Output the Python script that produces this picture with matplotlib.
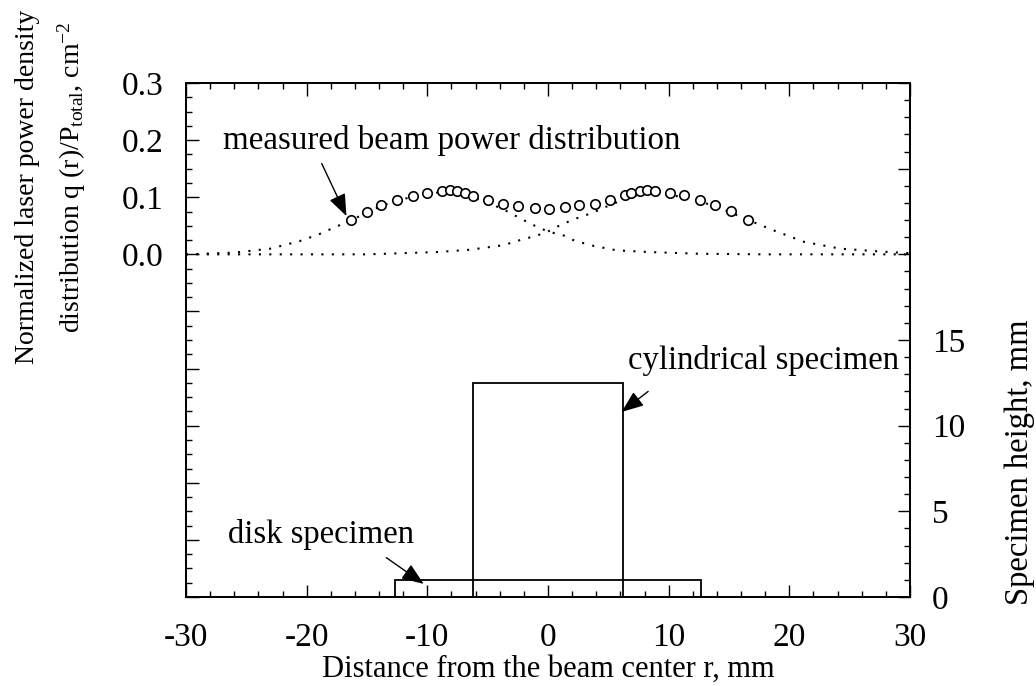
import matplotlib
matplotlib.use("Agg")
import matplotlib.pyplot as plt
from matplotlib.patches import Rectangle
from matplotlib.ticker import MultipleLocator, FuncFormatter

plt.rcParams["font.family"] = ["Liberation Serif", "DejaVu Serif"]
plt.rcParams["mathtext.fontset"] = "custom"
plt.rcParams["mathtext.rm"] = "Liberation Serif"
plt.rcParams["mathtext.it"] = "Liberation Serif:italic"
plt.rcParams["axes.unicode_minus"] = False

# measured beam power distribution (open circles)
meas_r = [-16.3, -15.0, -13.8, -12.5, -11.2, -10.0, -8.8, -8.1, -7.5, -6.9, -6.2,
          -5.0, -3.7, -2.5, -1.1, 0.1, 1.4, 2.6, 3.9, 5.1, 6.4, 6.9, 7.6, 8.2,
          8.9, 10.1, 11.3, 12.6, 13.8, 15.2, 16.6]
meas_q = [0.060, 0.074, 0.086, 0.095, 0.102, 0.107, 0.111, 0.112, 0.111, 0.108, 0.102,
          0.095, 0.089, 0.085, 0.082, 0.080, 0.083, 0.086, 0.089, 0.095, 0.104, 0.108,
          0.111, 0.112, 0.111, 0.107, 0.104, 0.096, 0.086, 0.076, 0.061]

# dotted fitted curves (left and right lobe)
left_r = [-30, -26, -23, -20.6, -19, -17.6, -16.3, -15, -13.8, -12.5, -11.2, -10,
          -8.8, -8, -7, -6, -5, -3.8, -2.3, -0.9, 0, 1.3, 2.1, 3.5, 5.7, 8.4,
          12.6, 18, 30]
left_q = [0.000, 0.003, 0.010, 0.023, 0.035, 0.048, 0.060, 0.073, 0.085, 0.094, 0.101,
          0.106, 0.109, 0.109, 0.106, 0.098, 0.090, 0.080, 0.063, 0.048, 0.040, 0.033,
          0.025, 0.016, 0.007, 0.004, 0.001, 0.000, 0.000]
right_r = [-30, -15, -9.2, -6.5, -3.7, -2.3, -0.9, 0, 1.0, 2.1, 2.9, 3.6, 5, 6.4,
           7.6, 8.5, 10, 11.3, 12.6, 13.8, 15.2, 16.6, 18.7, 21.2, 24.2, 27.5, 30]
right_q = [0.000, 0.000, 0.004, 0.008, 0.016, 0.025, 0.033, 0.040, 0.051, 0.061, 0.067,
           0.072, 0.085, 0.097, 0.105, 0.108, 0.104, 0.100, 0.093, 0.084, 0.073, 0.060,
           0.042, 0.022, 0.010, 0.005, 0.002]

# specimens: diameter, height (mm)
cyl_d, cyl_h = 12.5, 12.5
disk_d, disk_h = 25.4, 1.0

FS_TICK = 24
FS_TEXT = 23.5


def main() -> None:
    fig = plt.figure(figsize=(10.36, 6.86), dpi=100)
    ax = fig.add_axes([0.1795, 0.1297, 0.6989, 0.7493])
    ax2 = ax.twinx()

    ax.plot(left_r, left_q, color="k", lw=1.5, ls=(0, (1, 4)))
    ax.plot(right_r, right_q, color="k", lw=1.5, ls=(0, (1, 4)))
    ax.plot(meas_r, meas_q, "o", mfc="white", mec="k", ms=6.8, mew=1.2, zorder=3)

    ax.set_xlim(-30, 30)
    ax.set_ylim(-0.6, 0.3)
    ax.xaxis.set_major_locator(MultipleLocator(10))
    ax.xaxis.set_minor_locator(MultipleLocator(2))
    ax.yaxis.set_major_locator(MultipleLocator(0.1))
    ax.yaxis.set_minor_locator(MultipleLocator(0.025))
    # only the non-negative part of the power density axis is labelled
    ax.yaxis.set_major_formatter(
        FuncFormatter(lambda v, p: f"{abs(v):.1f}" if abs(v) < 1e-9 else (f"{v:.1f}" if v > 0 else "")))
    ax.tick_params(axis="x", which="both", direction="in", top=True, labelsize=FS_TICK, pad=18)
    ax.tick_params(axis="y", which="both", direction="in", right=False, labelsize=FS_TICK, pad=16)
    ax.tick_params(which="major", length=9, width=1.0)
    ax.tick_params(which="minor", length=4, width=1.0)

    # specimens on the right axis
    ax2.add_patch(Rectangle((-cyl_d / 2, 0), cyl_d, cyl_h, fill=False, ec="k", lw=1.3))
    ax2.add_patch(Rectangle((-disk_d / 2, 0), disk_d, disk_h, fill=False, ec="k", lw=1.3))
    ax2.set_ylim(0, 30)
    ax2.yaxis.set_major_locator(MultipleLocator(5))
    ax2.yaxis.set_minor_locator(MultipleLocator(1))
    ax2.yaxis.set_major_formatter(FuncFormatter(lambda v, p: f"{v:.0f}" if v <= 15.01 else ""))
    ax2.tick_params(axis="y", which="both", direction="in", labelsize=FS_TICK, pad=16)
    ax2.tick_params(which="major", length=9, width=1.0)
    ax2.tick_params(which="minor", length=4, width=1.0)

    for a in (ax, ax2):
        for s in a.spines.values():
            s.set_linewidth(1.3)

    # annotations
    arrow = dict(arrowstyle="-|>,head_length=0.9,head_width=0.35", color="k", lw=1.0,
                 shrinkA=0, shrinkB=0, mutation_scale=15)
    ax.text(-26.9, 0.2, "measured beam power distribution", fontsize=23.8, va="center", ha="left")
    ax.annotate("", xy=(-16.7, 0.067), xytext=(-18.75, 0.159), arrowprops=arrow)
    ax.text(29.1, -0.186, "cylindrical specimen", fontsize=FS_TEXT, va="center", ha="right")
    ax.annotate("", xy=(6.1, -0.276), xytext=(8.3, -0.240), arrowprops=arrow)
    ax.text(-26.5, -0.491, "disk specimen", fontsize=FS_TEXT, va="center", ha="left")
    ax.annotate("", xy=(-10.3, -0.577), xytext=(-13.4, -0.531), arrowprops=arrow)

    ax.set_xlabel("Distance from the beam center r, mm", fontsize=22, labelpad=2)
    fig.text(28 / 1036, 1 - 187 / 686, "Normalized laser power density",
             rotation=90, ha="center", va="center", fontsize=20)
    fig.text(72 / 1036, 1 - 177 / 686, r"distribution q (r)/P$_{\mathrm{total}}$, cm$^{-2}$",
             rotation=90, ha="center", va="center", fontsize=20)
    fig.text(1020 / 1036, 1 - 462 / 686, "Specimen height, mm",
             rotation=90, ha="center", va="center", fontsize=FS_TEXT)

    fig.savefig("out.png", dpi=100)
    plt.close(fig)


if __name__ == "__main__":
    main()
